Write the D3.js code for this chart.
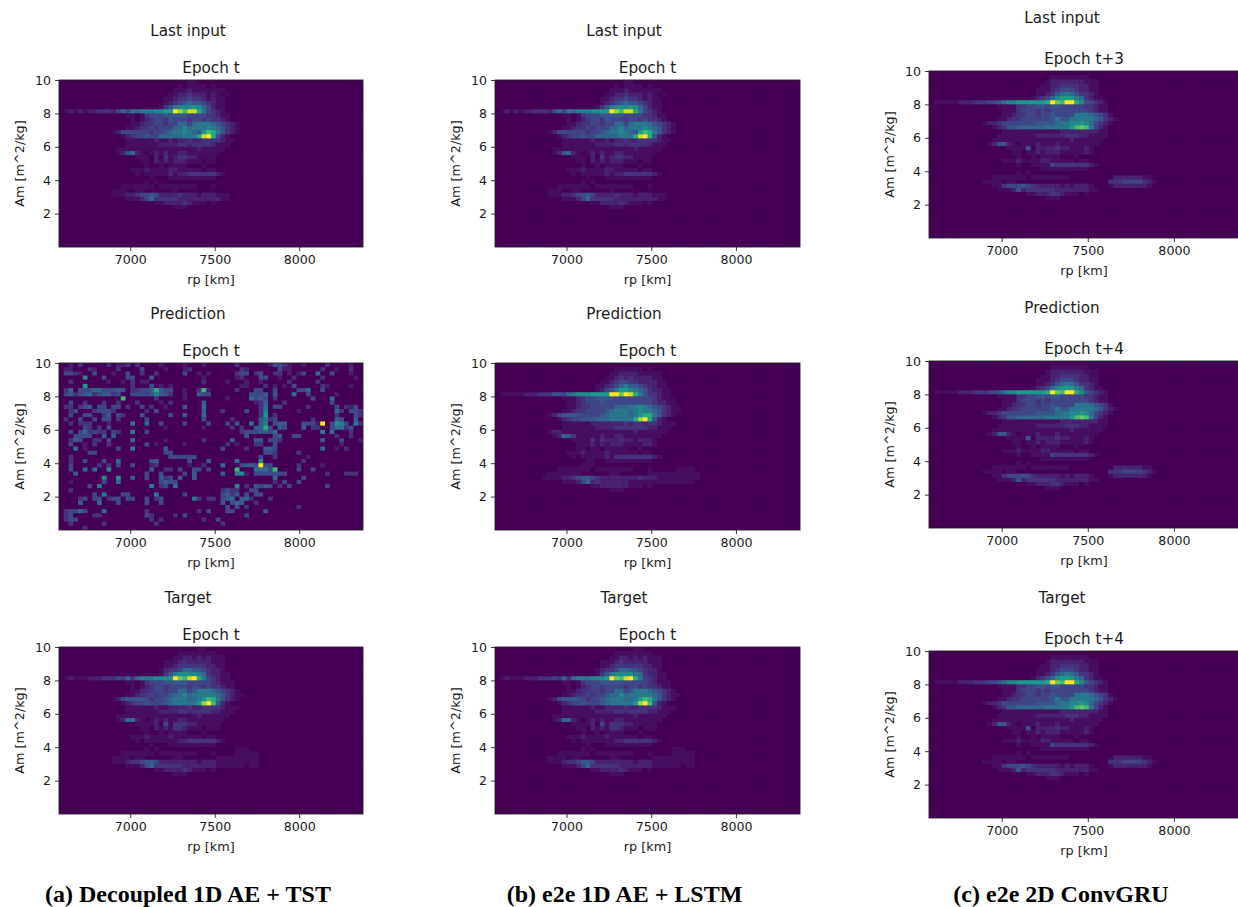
<!DOCTYPE html>
<html>
<head>
<meta charset="utf-8">
<script src="https://cdn.jsdelivr.net/npm/d3@7"></script>
<style>
  html, body { margin: 0; padding: 0; background: white; overflow: hidden; }
  text { font-family: "DejaVu Sans"; fill: #1a1a1a; }
</style>
</head>
<body>
<div id="fig"></div>
<script>
// heatmap cells, one hex digit per cell (0-f), 64 columns, top row first
// rows are written in blocks of 8, missing trailing cells and rows are empty
let inputT = [
"00000000 00000000 00000000 00011000",
"00000000 00000000 00000000 01011110 10000000",
"00000000 00000000 00000000 11121111 11100000",
"00000000 00000000 00000001 12232221 21010000",
"00000000 00000000 00000011 23343321 21100000",
"00000000 00000000 00000012 34565543 21100000",
"00000000 00000000 00000135 78889864 21100000",
"01212122 33324647 67778899 fdbeea74 32100000",
"00000000 00000011 01344455 55544443 32110000",
"00000000 00000001 01234435 44434434 33210000",
"00000000 00000001 12334434 46646777 65432100",
"00000000 00000011 23343444 66867778 76532100",
"00000000 00012444 44434456 7787659b a7532100",
"00000000 00000123 44544666 66777aef a5210000",
"00000000 00000011 11112112 12232233 33211000",
"00000000 00000011 11111222 23323333 21110000",
"00000000 00001111 11111111 11111211 11100000",
"00000000 00001256 21012121 12211111 11000000",
"00000000 00000000 11102031 23322111 10000000",
"00000000 00000000 01102121 22211101 10000000",
"00000000 00000000 00100101 11100010",
"00000000 00000001 11211112 21111101 10000000",
"00000000 00000000 10111112 12233333 32100000",
"00000000 00000000 00010001 11111111 10000000",
"00000000 00000000 00101000",
"00000000 00000111 11110111 11111000 10000000",
"00000000 00011100 11000000 10000000",
"00000000 00011122 34454222 23222122 21110000",
"00000000 00000011 12463333 32222222 22110000",
"00000000 00000000 00001122 22321110 10000000",
"00000000 00000000 00000000 11100000"
]

let targetT = [
"00000000 00000000 00000000 00000110",
"00000000 00000000 00000000 01111111 10000000",
"00000000 00000000 00000000 11221212 11100000",
"00000000 00000000 00000011 12322222 11100000",
"00000000 00000000 00000011 23333332 21100000",
"00000000 00000000 00000123 34665543 22100000",
"00000000 00000000 00000135 78888763 22110000",
"01211122 23334363 67778889 fcbefa74 32110000",
"00000000 00000011 01344455 55544444 32111000",
"00000000 00000001 01234434 44434434 33211000",
"00000000 00000001 12334434 46645777 65432100",
"00000000 00000011 23343445 66867777 76532110",
"00000000 00012455 55434456 7776679b a7532100",
"00000000 00000123 44544456 777779df b5210000",
"00000000 00000011 11112112 22232233 33211100",
"00000000 00000011 11111222 23323333 22111000",
"00000000 00001111 11111111 11111211 11110000",
"00000000 00001266 21012121 12211111 11100000",
"00000000 00000000 11112041 33322111 11000000",
"00000000 00000000 01102121 33211101 11000000",
"00000000 00000000 00100101 11100010 00000000",
"00000000 00000001 11211112 11111101 10000000",
"00000000 00000000 10111111 12233333 32100000",
"00000000 00000000 00010001 11111111 10000000",
"00000000 00000000 00101000 00000000 00000111",
"00000000 00000111 11110111 11111000 10000111 1100",
"00000000 00011110 11000000 11000000 01111111 1100",
"00000000 00011123 34554222 22222122 21111111 11000000",
"00000000 00000011 12463333 33222222 21111110 11000000",
"00000000 00000000 00001122 22321110 10000000",
"00000000 00000000 00000000 11100000"
]

let predB = [
"00000000 00000000 00000000 00000000",
"00000000 00000000 00000000 01111110 10000000",
"00000000 00000000 00000000 11222211 11100000",
"00000000 00000000 00000001 12323222 21100000",
"00000000 00000000 00000011 23443322 22110000",
"00000000 00000000 00000112 34675543 22110000",
"00000000 00000000 00000124 57998765 32211000",
"01111122 23335546 78889999 ffcfea75 33211000",
"00000000 00000011 12344555 54444444 43211100",
"00000000 00000001 12344454 44444444 43221100",
"00000000 00000001 12334444 46667787 65432110",
"00000000 00000011 23344445 67776787 76532110",
"00000000 00012455 55444456 7777679a a7532100",
"00000000 00000123 44555666 77777adf a5210000",
"00000000 00000011 11112222 22232332 33211100",
"00000000 00000011 11111222 23333333 22111000",
"00000000 00012211 11111111 11111211 11110000",
"00000000 00001265 31111121 12211111 11100000",
"00000000 00000000 11113132 22322122 21000000",
"00000000 00000000 01112121 22211112 21000000",
"00000000 00000000 01101101 11110010 00000000",
"00000000 00000001 11211112 11111101 10000000",
"00000000 00000000 10111112 13333333 32100000",
"00000000 00000000 00011001 11111111 10000000",
"00000000 00000000 00111000 00000000 00000000",
"00000000 00000111 11110111 11111000 10000011 1100",
"00000000 00011111 11000000 11000000 11111111 1110",
"00000000 00111122 34554322 22222232 22111111 11100000",
"00000000 00000011 12462322 22221111 11111111 11000000",
"00000000 00000000 00001122 22221110 10000000",
"00000000 00000000 00000000 11100000"
]

let epochC = [
"00000000 00000000 00000000 00000000",
"00000000 00000000 00000000 01111111 10000000",
"00000000 00000000 00000000 12222222 11100000",
"00000000 00000000 00000001 12233332 21100000",
"00000000 00000000 00000011 12344432 21100000",
"00000000 00000000 00000011 23567653 32100000",
"00000000 00000000 00000123 46899976 32110000",
"01111122 23334456 88999999 afcbffa8 54321000",
"00000000 00000011 11334455 45544444 33211000",
"00000000 00000001 11344434 34444444 43211000",
"00000000 00000001 12334434 45444477 76543100",
"00000000 00000011 23344444 45755777 77653210",
"00000000 00012234 44444455 55677889 86432100",
"00000000 00000123 55666666 777779bc b7421000",
"00000000 00000001 11111111 11122222 22211000",
"00000000 00000011 11111122 22223332 21111000",
"00000000 00000111 11111111 11111211 11110000",
"00000000 00001255 21011121 11211111 11100000",
"00000000 00000000 11115022 22322111 21000000",
"00000000 00000000 01101121 22211111 21000000",
"00000000 00000000 00100101 11100010 00000000",
"00000000 00000001 11211112 21111101 10000000",
"00000000 00000000 00100111 14333333 32100000",
"00000000 00000000 00000001 11111111 10000000",
"00000000 00000000 00101000 00000000 00000000",
"00000000 00000111 11110111 11111000 00000022 22221100",
"00000000 00011110 11000000 00000000 00000333 44443210",
"00000000 00000113 44454322 22212122 21000122 22222100",
"00000000 00000011 12523333 33222222 21100000",
"00000000 00000000 00001122 23321110 10000000",
"00000000 00000000 00000000 11100000"
]

let noiseA = [
"00102000 00201120 20000100 00100010 00000200 00001332 10010000 20000100",
"01100021 00002000 03000010 00120000 00000021 00000031 10000002 00100200",
"03321003 00010030 02002000 00300101 00000233 02300220 10130050 03000100",
"00000700 03000033 00040000 00000010 00000120 00330010 02000002 00000010",
"00200000 00100102 01100000 00000020 00010001 00100000 20000020 00000000",
"00000800 00000002 00030101 00000000 00000011 00020101 03000002 10000100",
"02503335 53334302 23349433 001002a1 00000200 03300300 00335003 00000000",
"03423452 34423003 33346432 00100433 00000000 33340400 05003000 00100000",
"00000000 00000a00 00002000 00100000 00010000 53430200 00000300 05000000",
"00300200 02002000 20000102 00000040 00000000 01240002 00000000 03000000",
"02202340 33033020 03020010 00400050 00000000 00250330 00002000 00302130",
"00230002 33320000 00203000 00000040 00200003 00260000 00100000 00520332",
"00300330 02403200 04000003 00400050 00000000 00280200 00000000 00200032",
"02003003 03302000 00300000 00000030 00002000 00452300 00000200 00430040",
"00202220 00100006 00500300 00300003 00030400 50460344 0003331f 03763062",
"00000320 20300000 00000010 00000010 00002020 04493043 00040220 03552300",
"00303523 22032006 00300000 00000000 00000023 33443500 00000006 05000200",
"00033330 04040000 00000000 00000000 00000004 00000340 03300000 00200200",
"00243002 20300005 00000010 00000020 00004000 04403320 00000004 00030001",
"00300102 00200000 00301000 00100000 00020100 02200300 00000000 00010000",
"00050100 00003006 00000040 00000000 00300002 00044300 00000005 00102000",
"00000033 00000000 00000033 00000000 00000000 00033200 00200000 00000000",
"00200000 00000000 00000003 33333000 00000000 00300200 00001000 00000000",
"00200300 03005000 00034000 00030004 00000500 00700000 00020000 00000000",
"00300000 20203003 00012000 00010020 00500034 43f33000 00200001 00000000",
"00300505 00700000 00040022 03003303 00000a00 05553a00 00300300 00000000",
"00040000 00000000 00300300 00304000 00400671 03333333 00000000 20002220",
"00000000 07007004 00300423 04004000 00000000 00000500 00030000 00000000",
"00100000 03005000 00000343 30000000 00000000 00000203 00300000 00000000",
"00000030 60000000 00060230 50000000 00000702 04343020 30000000 30000000",
"00200000 00000000 00000000 00000000 00232200 33000000 00000000 00000000",
"00000003 06000330 00006000 00300000 00342403 03300000 00000000 00000000",
"00002303 30233033 00302300 00006202 20345045 20002000 00000000 00000000",
"00004000 50003000 00300300 00000000 00403540 02000000 00000000 00000000",
"00000000 00000000 00000000 00000000 00030302 00000000 00200000 00000000",
"02335300 05000000 00200000 00000203 00033000 00040000 00000000 00000000",
"02300002 20000000 00320000 20300000 00000003 00000000 00000000 00000000",
"02330000 00000000 00020200 00000020 03000000 00000000 00000000 00000000",
"00200000 02000000 00002000 00000000 00200000 00000000 00000000 00000000",
"00000200 00000000 00000000 00000000 00000000 00000000 00000000 00000000"
]

// titles and axis labels
let yTicks = [2, 4, 6, 8, 10]
let xTicks = [7000, 7500, 8000]
let xRange = [6578, 8378]
let yRange = [0, 10]
let xName = "rp [km]"
let yName = "Am [m^2/kg]"
let captions = ["(a) Decoupled 1D AE + TST", "(b) e2e 1D AE + LSTM", "(c) e2e 2D ConvGRU"]

let panels = [
  {data: inputT,  head: "Last input", epoch: "Epoch t",   x: 59,  y: 80,  w: 304, h: 167, headX: 188,  headY: 35.5,  epochY: 72.5},
  {data: noiseA,  head: "Prediction", epoch: "Epoch t",   x: 59,  y: 363, w: 304, h: 167, headX: 188,  headY: 318.5, epochY: 355.5},
  {data: targetT, head: "Target",     epoch: "Epoch t",   x: 59,  y: 647, w: 304, h: 167, headX: 188,  headY: 602.5, epochY: 639.5},
  {data: inputT,  head: "Last input", epoch: "Epoch t",   x: 495, y: 80,  w: 305, h: 167, headX: 624,  headY: 35.5,  epochY: 72.5},
  {data: predB,   head: "Prediction", epoch: "Epoch t",   x: 495, y: 363, w: 305, h: 167, headX: 624,  headY: 318.5, epochY: 355.5},
  {data: targetT, head: "Target",     epoch: "Epoch t",   x: 495, y: 647, w: 305, h: 167, headX: 624,  headY: 602.5, epochY: 639.5},
  {data: epochC,  head: "Last input", epoch: "Epoch t+3", x: 929, y: 71,  w: 310, h: 167, headX: 1062, headY: 22.5,  epochY: 63.5},
  {data: epochC,  head: "Prediction", epoch: "Epoch t+4", x: 929, y: 361, w: 310, h: 167, headX: 1062, headY: 312.5, epochY: 353.5},
  {data: epochC,  head: "Target",     epoch: "Epoch t+4", x: 929, y: 651, w: 310, h: 167, headX: 1062, headY: 602.5, epochY: 643.5}
]
let captionX = [188, 624.5, 1061]

let nCols = 64
let nRows = 40

function parseCells(rows){
  let cells = []
  for(let r = 0; r < nRows; r++){
    let row = (rows[r] || "").replace(/ /g, "").padEnd(nCols, "0")
    for(let c = 0; c < nCols; c++){
      cells.push({r: r, c: c, v: parseInt(row[c], 16)})
    }
  }
  return cells
}

let svg = d3.select("#fig").append("svg")
  .attr("width", 1238)
  .attr("height", 907)

let defs = svg.append("defs")
defs.append("filter")
  .attr("id", "soft")
  .attr("x", "-2%").attr("y", "-2%").attr("width", "104%").attr("height", "104%")
  .append("feGaussianBlur")
  .attr("stdDeviation", 0.45)

// digit to colour, the low digits stay close to the background
let level = d3.scalePow().exponent(1.2).domain([0, 15]).range([0, 1])
let noiseLevel = d3.scalePow().exponent(0.95).domain([0, 15]).range([0, 1])

panels.forEach((p, i) => {
  let g = svg.append("g").attr("transform", "translate(" + p.x + "," + p.y + ")")
  let toColor = p.data === noiseA ? noiseLevel : level

  defs.append("clipPath").attr("id", "clip" + i)
    .append("rect").attr("width", p.w).attr("height", p.h)

  let xCell = d3.scaleBand().domain(d3.range(nCols)).range([0, p.w])
  let yCell = d3.scaleBand().domain(d3.range(nRows)).range([0, p.h])
  let x = d3.scaleLinear().domain(xRange).range([0, p.w])
  let y = d3.scaleLinear().domain(yRange).range([p.h, 0])

  let body = g.append("g").attr("clip-path", "url(#clip" + i + ")")
  body.append("rect").attr("width", p.w).attr("height", p.h).attr("fill", d3.interpolateViridis(0))

  body.append("g")
    .attr("filter", "url(#soft)")
    .selectAll("rect")
    .data(parseCells(p.data))
    .join("rect")
      .attr("x", d => xCell(d.c))
      .attr("y", d => yCell(d.r))
      .attr("width", xCell.bandwidth() + 0.5)
      .attr("height", yCell.bandwidth() + 0.5)
      .attr("fill", d => d3.interpolateViridis(toColor(d.v)))

  // frame
  g.append("rect")
    .attr("width", p.w).attr("height", p.h)
    .attr("fill", "none").attr("stroke", "#222").attr("stroke-width", 0.9)

  let xAxis = g.append("g")
    .attr("transform", "translate(0," + p.h + ")")
    .call(d3.axisBottom(x).tickValues(xTicks).tickFormat(d3.format("d")).tickSize(4).tickPadding(4))
  let yAxis = g.append("g")
    .call(d3.axisLeft(y).tickValues(yTicks).tickFormat(d3.format("d")).tickSize(4).tickPadding(4))

  ;[xAxis, yAxis].forEach(a => {
    a.select(".domain").remove()
    a.selectAll("text").style("font-size", "12.6px").style("font-family", "DejaVu Sans").attr("fill", "#1a1a1a")
    a.selectAll("line").attr("stroke", "#222").attr("stroke-width", 0.9)
  })

  g.append("text")
    .attr("x", p.w / 2).attr("y", p.h + 37)
    .attr("text-anchor", "middle").style("font-size", "12.8px")
    .text(xName)

  g.append("text")
    .attr("transform", "translate(" + (-35) + "," + (p.h / 2) + ") rotate(-90)")
    .attr("text-anchor", "middle").style("font-size", "12.8px")
    .text(yName)

  g.append("text")
    .attr("x", p.w / 2).attr("y", p.epochY - p.y)
    .attr("text-anchor", "middle").style("font-size", "15.2px")
    .text(p.epoch)

  svg.append("text")
    .attr("x", p.headX).attr("y", p.headY)
    .attr("text-anchor", "middle").style("font-size", "15.2px")
    .text(p.head)
})

svg.selectAll(".caption")
  .data(captions)
  .join("text")
    .attr("class", "caption")
    .attr("x", (d, i) => captionX[i])
    .attr("y", 902)
    .attr("text-anchor", "middle")
    .style("font-family", "Liberation Serif")
    .style("font-weight", "bold")
    .style("font-size", "24px")
    .style("fill", "black")
    .text(d => d)
</script>
</body>
</html>
